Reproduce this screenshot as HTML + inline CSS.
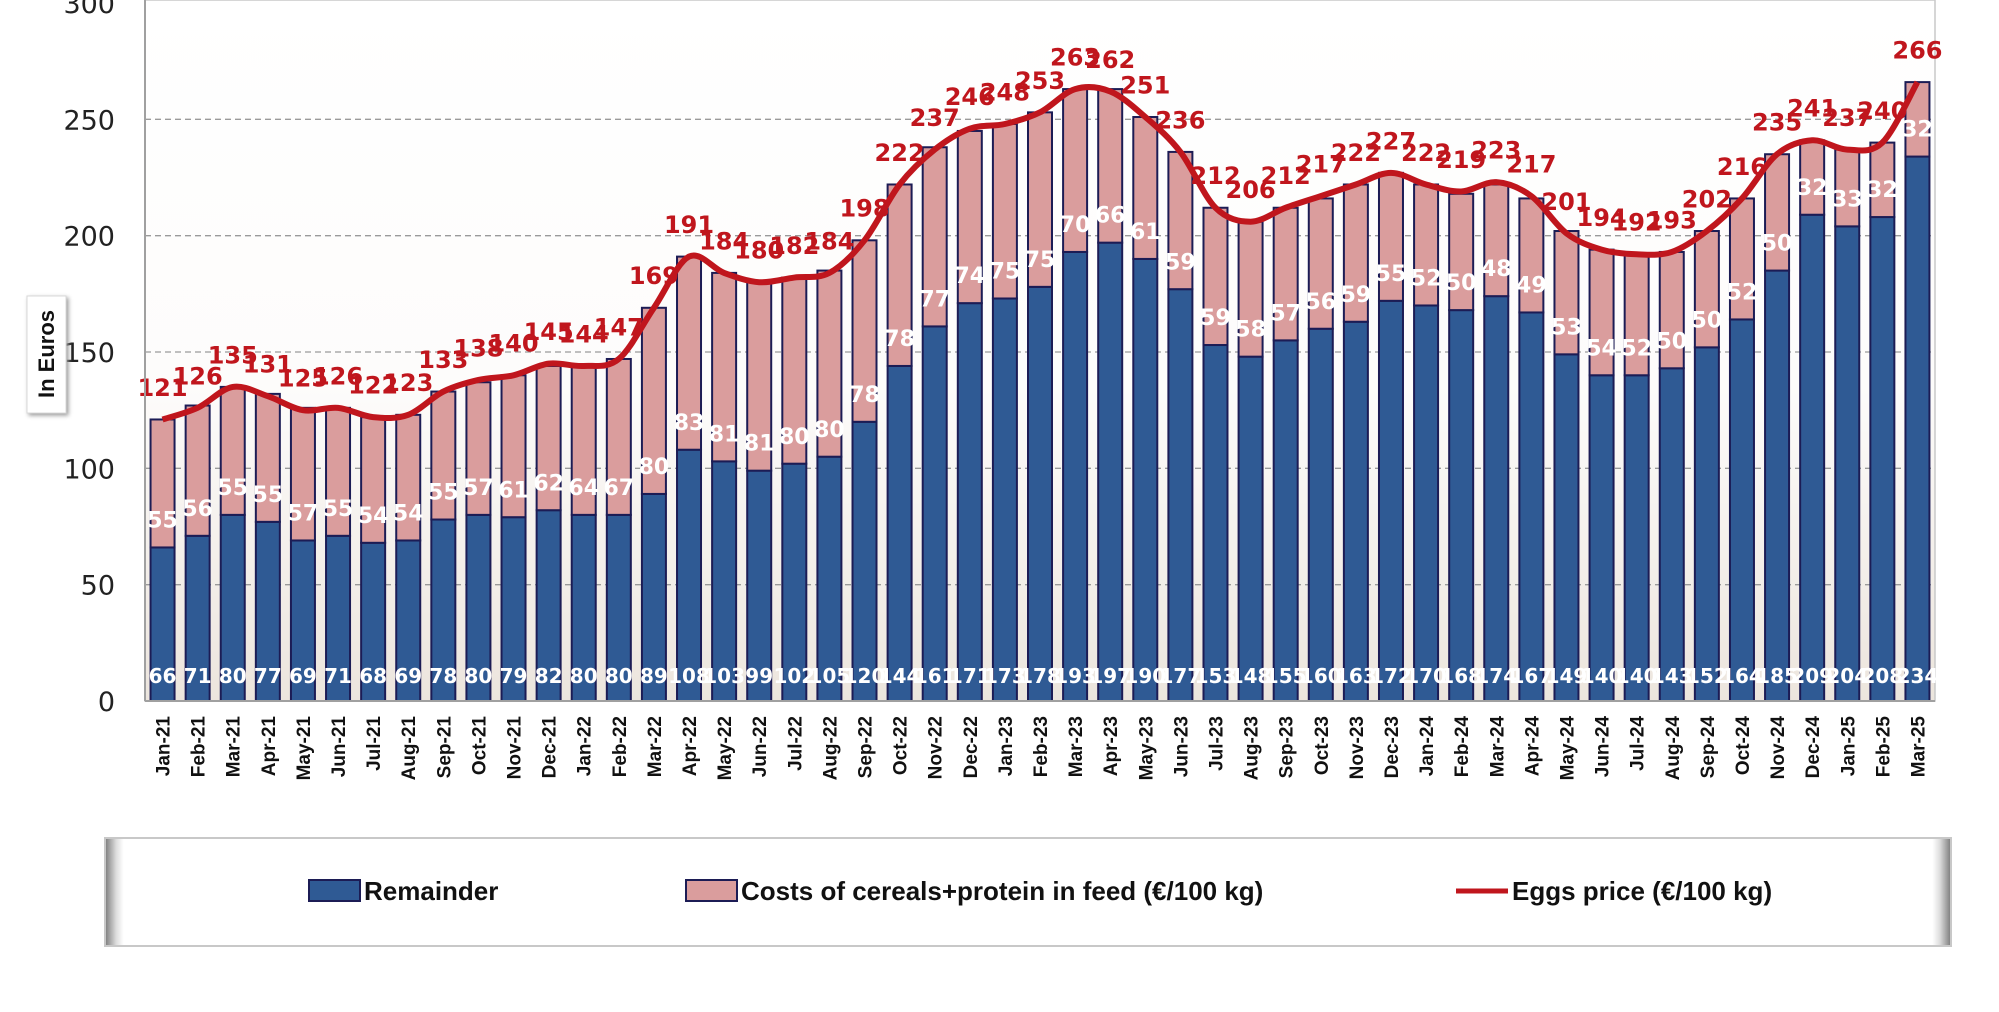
<!DOCTYPE html>
<html><head><meta charset="utf-8"><style>
html,body{margin:0;padding:0;background:#fff;}
svg{display:block;font-family:"DejaVu Sans","Liberation Sans",sans-serif;}
</style></head><body>
<svg id="chart" width="1999" height="1012" viewBox="0 0 1999 1012" xmlns="http://www.w3.org/2000/svg">
<defs>
<linearGradient id="plotbg" x1="0" y1="0" x2="0" y2="1">
<stop offset="0" stop-color="#ffffff"/><stop offset="0.55" stop-color="#fdfcfb"/><stop offset="1" stop-color="#ece5dd"/>
</linearGradient>
<linearGradient id="legbg" x1="0" y1="0" x2="1" y2="0">
<stop offset="0" stop-color="#7a7a7a"/><stop offset="0.006" stop-color="#dcdcdc"/><stop offset="0.01" stop-color="#fff"/><stop offset="0.99" stop-color="#fff"/><stop offset="0.994" stop-color="#dcdcdc"/><stop offset="1" stop-color="#7a7a7a"/>
</linearGradient>
</defs>
<rect x="145" y="0" width="1790" height="701" fill="url(#plotbg)" stroke="#c8c8c8" stroke-width="1.5"/>
<g id="grid"></g><g id="bars"></g><g id="line"></g><g id="labels"></g><g id="axes"></g>
<g>
<rect x="27" y="296" width="39" height="117" fill="#fff" stroke="#d8d8d8" style="filter:drop-shadow(2px 2px 2px #999)"/>
<text x="0" y="0" transform="translate(54,354) rotate(-90)" text-anchor="middle" font-family="Liberation Sans, sans-serif" font-weight="bold" font-size="22" fill="#111">In Euros</text>
</g>
<g>
<rect x="105" y="838" width="1846" height="108" fill="url(#legbg)" stroke="#c8c8c8" stroke-width="2"/>
<g>
<rect x="309" y="880" width="51" height="21" fill="#2f5a94" stroke="#1c1c55" stroke-width="2"/>
<text x="364" y="900" font-family="Liberation Sans, sans-serif" font-weight="bold" font-size="26" fill="#111">Remainder</text></g>
<g>
<rect x="686" y="880" width="51" height="21" fill="#da9d9d" stroke="#1c1c55" stroke-width="2"/>
<text x="741" y="900" font-family="Liberation Sans, sans-serif" font-weight="bold" font-size="26" fill="#111">Costs of cereals+protein in feed (€/100 kg)</text></g>
<g>
<line x1="1456" y1="891" x2="1508" y2="891" stroke="#c0161d" stroke-width="5"/>
<text x="1512" y="900" font-family="Liberation Sans, sans-serif" font-weight="bold" font-size="26" fill="#111">Eggs price (€/100 kg)</text></g>
</g>
</svg>
<script>
const months = ["Jan-21","Feb-21","Mar-21","Apr-21","May-21","Jun-21","Jul-21","Aug-21","Sep-21","Oct-21","Nov-21","Dec-21","Jan-22","Feb-22","Mar-22","Apr-22","May-22","Jun-22","Jul-22","Aug-22","Sep-22","Oct-22","Nov-22","Dec-22","Jan-23","Feb-23","Mar-23","Apr-23","May-23","Jun-23","Jul-23","Aug-23","Sep-23","Oct-23","Nov-23","Dec-23","Jan-24","Feb-24","Mar-24","Apr-24","May-24","Jun-24","Jul-24","Aug-24","Sep-24","Oct-24","Nov-24","Dec-24","Jan-25","Feb-25","Mar-25"];
const remainder = [66,71,80,77,69,71,68,69,78,80,79,82,80,80,89,108,103,99,102,105,120,144,161,171,173,178,193,197,190,177,153,148,155,160,163,172,170,168,174,167,149,140,140,143,152,164,185,209,204,208,234];
const feedCosts = [55,56,55,55,57,55,54,54,55,57,61,62,64,67,80,83,81,81,80,80,78,78,77,74,75,75,70,66,61,59,59,58,57,56,59,55,52,50,48,49,53,54,52,50,50,52,50,32,33,32,32];
const eggsPrice = [121,126,135,131,125,126,122,123,133,138,140,145,144,147,169,191,184,180,182,184,198,222,237,246,248,253,263,262,251,236,212,206,212,217,222,227,222,219,223,217,201,194,192,193,202,216,235,241,237,240,266];
const yTicks = [0,50,100,150,200,250,300];

const NS="http://www.w3.org/2000/svg";
const X0=145, X1=1935, Y0=701, YMAX=300, YTOP=3;
const band=(X1-X0)/months.length;
const xc=i=>X0+band*(i+0.5);
const y=v=>Y0-(v/YMAX)*(Y0-YTOP);
function mk(tag,attrs,parent,text){const e=document.createElementNS(NS,tag);for(const k in attrs)e.setAttribute(k,attrs[k]);if(text!==undefined)e.textContent=text;parent.appendChild(e);return e;}
const grid=document.getElementById('grid'),bars=document.getElementById('bars'),line=document.getElementById('line'),labels=document.getElementById('labels'),axes=document.getElementById('axes');
yTicks.forEach(t=>{
  if(t>0&&t<300){const g=mk('line',{x1:X0,x2:X1,y1:y(t),y2:y(t),stroke:'#9a9a9a','stroke-width':1.3,'stroke-dasharray':'6,4'},grid);
  
  }
  const tl=mk('text',{x:115,y:y(t)+10,'text-anchor':'end','font-size':27,fill:'#222'},axes,String(t));
  
  
});
mk('line',{x1:X0,x2:X0,y1:0,y2:Y0,stroke:'#a0a0a0','stroke-width':2},axes);
mk('line',{x1:X0,x2:X1,y1:Y0,y2:Y0,stroke:'#a0a0a0','stroke-width':2},axes);
const bw=24;
months.forEach((m,i)=>{
  const cx=xc(i), r=remainder[i], c=feedCosts[i];
  const rb=mk('rect',{x:cx-bw/2,y:y(r),width:bw,height:Y0-y(r),fill:'#2f5a94',stroke:'#1c1c55','stroke-width':2},bars);
  
  
  const cb=mk('rect',{x:cx-bw/2,y:y(r+c),width:bw,height:y(r)-y(r+c),fill:'#da9d9d',stroke:'#1c1c55','stroke-width':2},bars);
  
  
  const rl=mk('text',{x:cx,y:683,'text-anchor':'middle','font-size':20,'font-weight':'bold',fill:'#fff'},labels,String(r));
  
  
  const cl=mk('text',{x:cx,y:y(r+12)+8,'text-anchor':'middle','font-size':22,'font-weight':'bold',fill:'#fff'},labels,String(c));
  
  
  const el=mk('text',{x:cx,y:y(eggsPrice[i]+14)+9,'text-anchor':'middle','font-size':24,'font-weight':'bold',fill:'#c0161d'},labels,String(eggsPrice[i]));
  
  
  const xl=mk('text',{transform:`translate(${cx+7},716) rotate(-90)`,'text-anchor':'end','font-family':'Liberation Sans, sans-serif','font-size':19,'font-weight':'bold',fill:'#111'},axes,m);
  
  
});
const pts=eggsPrice.map((v,i)=>[xc(i),y(v)]);
let d=`M${pts[0][0]},${pts[0][1]}`;
for(let i=0;i<pts.length-1;i++){
  const p0=pts[Math.max(i-1,0)],p1=pts[i],p2=pts[i+1],p3=pts[Math.min(i+2,pts.length-1)];
  const t=6;
  d+=` C${p1[0]+(p2[0]-p0[0])/t},${p1[1]+(p2[1]-p0[1])/t} ${p2[0]-(p3[0]-p1[0])/t},${p2[1]-(p3[1]-p1[1])/t} ${p2[0]},${p2[1]}`;
}
const lp=mk('path',{d:d,fill:'none',stroke:'#c0161d','stroke-width':6,'stroke-linejoin':'round'},line);


</script>
</body></html>
